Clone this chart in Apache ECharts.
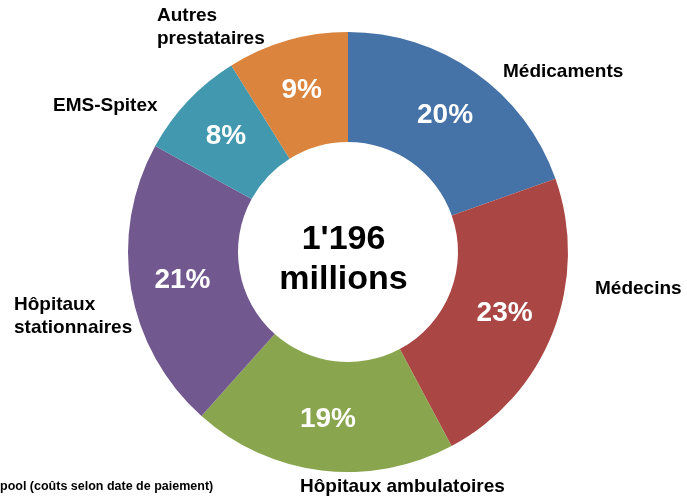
<!DOCTYPE html>
<html>
<head>
<meta charset="utf-8">
<script src="https://cdn.jsdelivr.net/npm/echarts@6/dist/echarts.min.js"></script>
<style>
  html, body { margin: 0; padding: 0; background: #fff; }
  #chart { width: 687px; height: 499px; }
</style>
</head>
<body>
<div id="chart"></div>
<script>
// parts of total costs, in percent
const categories = ['Médicaments', 'Médecins', 'Hôpitaux ambulatoires', 'Hôpitaux\nstationnaires', 'EMS-Spitex', 'Autres\nprestataires']
const shares = [19.6, 22.6, 19.4, 21.4, 8.1, 8.9]
const colors = ['#4572A7', '#AA4643', '#89A54E', '#71588F', '#4198AF', '#DB843D']
const totalLabel = "1'196\nmillions"
const footnote = 'pool (coûts selon date de paiement)'

// where the category names sit (layout only)
const namePos = [
  { x: 503, y: 72, align: 'left' },
  { x: 595, y: 289, align: 'left' },
  { x: 300, y: 487, align: 'left' },
  { x: 14, y: 316, align: 'left' },
  { x: 53, y: 106, align: 'left' },
  { x: 157, y: 27, align: 'left' }
]

const font = '"Liberation Sans", Arial, sans-serif'
const data = categories.map((name, i) => ({ name, value: shares[i], itemStyle: { color: colors[i] } }))

const chart = echarts.init(document.getElementById('chart'), null, { renderer: 'canvas' })

const option = {
  animation: false,
  title: {
    text: footnote,
    left: 0,
    top: 480,
    padding: 0,
    textStyle: { fontFamily: font, fontSize: 12.5, fontWeight: 'bold', color: '#000' }
  },
  graphic: [{
    type: 'text',
    left: 'center',
    top: 220,
    style: {
      text: totalLabel,
      x: 0,
      fontFamily: font,
      fontSize: 34,
      fontWeight: 'bold',
      lineHeight: 40,
      fill: '#000',
      textAlign: 'center'
    }
  }],
  series: [
    {
      type: 'pie',
      center: [348, 252],
      radius: [110, 220],
      startAngle: 90,
      clockwise: true,
      percentPrecision: 0,
      silent: true,
      itemStyle: { borderWidth: 0 },
      label: {
        position: 'inside',
        formatter: '{d}%',
        fontFamily: font,
        fontSize: 28,
        fontWeight: 'bold',
        color: '#fff'
      },
      labelLine: { show: false },
      data: data
    },
    {
      type: 'pie',
      center: [348, 252],
      radius: [110, 220],
      startAngle: 90,
      clockwise: true,
      silent: true,
      itemStyle: { color: 'rgba(0,0,0,0)', borderWidth: 0 },
      label: {
        position: 'outside',
        formatter: '{b}',
        overflow: 'none',
        fontFamily: font,
        fontSize: 19,
        fontWeight: 'bold',
        lineHeight: 23,
        color: '#000'
      },
      labelLine: { show: false },
      labelLayout: (params) => {
        const p = namePos[params.dataIndex]
        return { x: p.x, y: p.y, align: p.align, verticalAlign: 'middle' }
      },
      data: categories.map((name, i) => ({ name, value: shares[i] }))
    }
  ]
}

chart.setOption(option)
</script>
</body>
</html>
